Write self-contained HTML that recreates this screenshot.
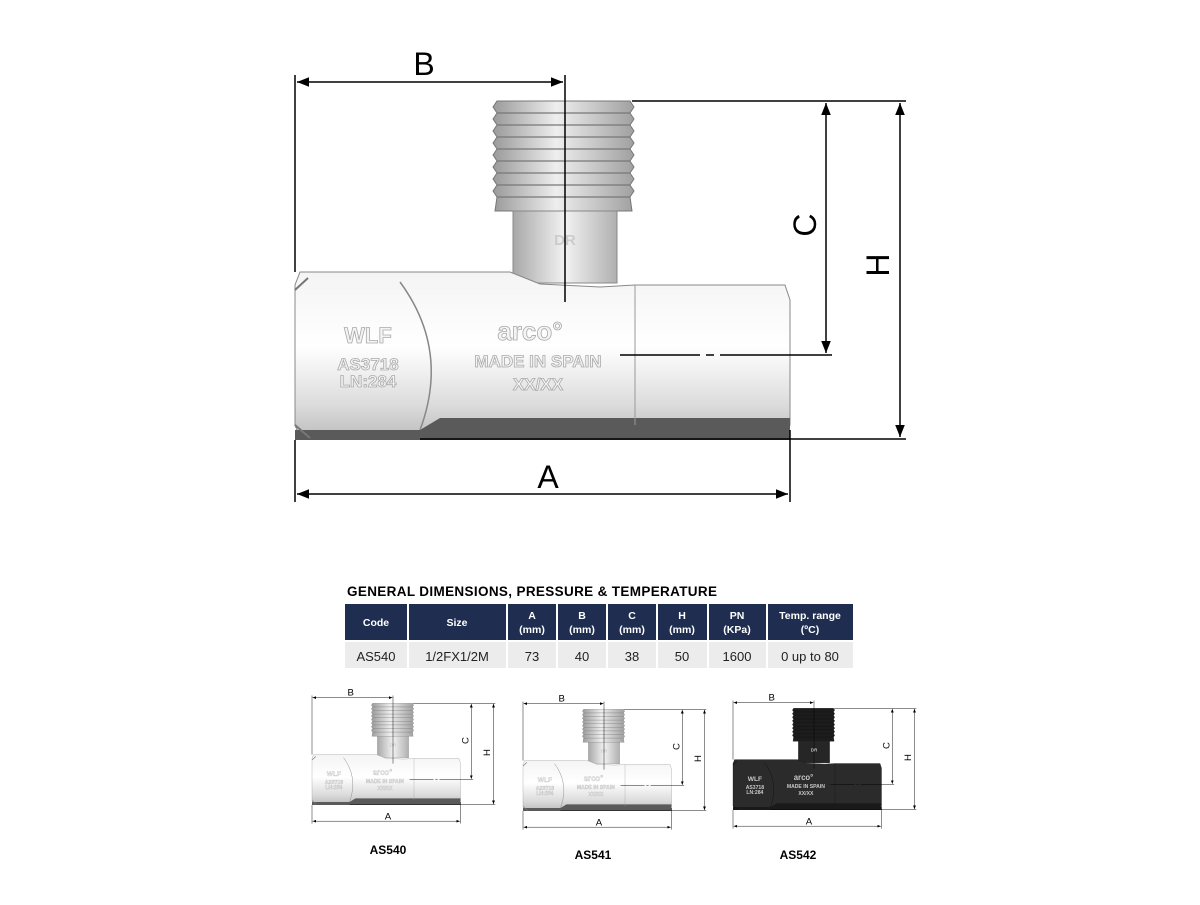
<!DOCTYPE html>
<html><head><meta charset="utf-8"><style>
body{margin:0;background:#fff;width:1200px;height:900px;overflow:hidden;font-family:"Liberation Sans",Arial,sans-serif}
.dark{--body:#2b2b2b;--thr:#1c1c1c;--neck:#262626;--ln:#111;--txt:#c8c8c8;--tst:none;--bot:#1a1a1a}
</style></head><body>
<svg width="1200" height="900" viewBox="0 0 1200 900" xmlns="http://www.w3.org/2000/svg" font-family="Liberation Sans, Arial, sans-serif">
<defs>
<linearGradient id="bodyg" x1="0" y1="0" x2="0" y2="1">
<stop offset="0" stop-color="#f4f4f4"/><stop offset="0.45" stop-color="#ffffff"/><stop offset="0.8" stop-color="#dcdcdc"/><stop offset="1" stop-color="#bdbdbd"/>
</linearGradient>
<linearGradient id="neckg" x1="0" y1="0" x2="1" y2="0">
<stop offset="0" stop-color="#a8a8a8"/><stop offset="0.5" stop-color="#f2f2f2"/><stop offset="1" stop-color="#b0b0b0"/>
</linearGradient>
<linearGradient id="thrg" x1="0" y1="0" x2="1" y2="0">
<stop offset="0" stop-color="#9a9a9a"/><stop offset="0.45" stop-color="#eeeeee"/><stop offset="1" stop-color="#a0a0a0"/>
</linearGradient>
<marker id="ar" viewBox="0 0 10 10" refX="10" refY="5" markerWidth="8" markerHeight="8" orient="auto-start-reverse"><path d="M0,1 L10,5 L0,9 z" fill="#000"/></marker>
<g id="valve">
 <path d="M497,101 L630,101 L634,107 L630,113 L634,119 L630,125 L634,131 L630,137 L634,143 L630,149 L634,155 L630,161 L634,167 L630,173 L634,179 L630,185 L634,191 L630,197 L632,211 L495,211 L497,197 L493,191 L497,185 L493,179 L497,173 L493,167 L497,161 L493,155 L497,149 L493,143 L497,137 L493,131 L497,125 L493,119 L497,113 L493,107 Z" style="fill:var(--thr,url(#thrg));stroke:var(--ln,#777)"/>
 <g style="stroke:var(--ln,#777)" stroke-width="1.2">
  <line x1="497" y1="113" x2="630" y2="113"/><line x1="497" y1="125" x2="630" y2="125"/>
  <line x1="497" y1="137" x2="630" y2="137"/><line x1="497" y1="149" x2="630" y2="149"/>
  <line x1="497" y1="161" x2="630" y2="161"/><line x1="497" y1="173" x2="630" y2="173"/>
  <line x1="497" y1="185" x2="630" y2="185"/><line x1="497" y1="197" x2="630" y2="197"/>
 </g>
 <rect x="513" y="211" width="104" height="72" style="fill:var(--neck,url(#neckg));stroke:var(--ln,#888)"/>
 <text x="565" y="245" font-size="15" font-weight="bold" style="fill:var(--txt,#ccc)" text-anchor="middle">DR</text>
 <path d="M300,272 L510,272 L540,284 L600,287 L635,285 L785,285 L790,300 L790,425 L785,438 L300,438 L295,425 L295,285 Z" style="fill:var(--body,url(#bodyg));stroke:var(--ln,#888)"/>
 <path d="M295,430 L420,430 L440,418 L790,418 L790,440 L295,440 Z" style="fill:var(--bot,#5a5a5a)"/>
 <path d="M400,282 Q450,350 420,430" fill="none" style="stroke:var(--ln,#888)" stroke-width="1.5"/>
 <path d="M295,290 L308,278 M295,425 L310,438" style="stroke:var(--ln,#777)" stroke-width="2"/>
 <line x1="635" y1="285" x2="635" y2="425" style="stroke:var(--ln,#999)"/>
 <g style="fill:var(--txt,#f4f4f4);stroke:var(--tst,#aaa)" stroke-width="0.8" font-weight="bold" text-anchor="middle">
  <text x="368" y="343" font-size="22">WLF</text>
  <text x="368" y="370" font-size="17">AS3718</text>
  <text x="368" y="387" font-size="17">LN:284</text>
  <text x="530" y="340" font-size="26">arco°</text>
  <text x="538" y="367" font-size="17">MADE IN SPAIN</text>
  <text x="538" y="390" font-size="17">XX/XX</text>
 </g>
 <g stroke="#000" stroke-width="1.5" fill="none">
  <line x1="295" y1="75" x2="295" y2="272"/>
  <line x1="565" y1="75" x2="565" y2="302"/>
  <line x1="297" y1="82" x2="563" y2="82" marker-start="url(#ar)" marker-end="url(#ar)"/>
  <line x1="632" y1="101" x2="906" y2="101"/>
  <line x1="620" y1="355" x2="700" y2="355"/><line x1="706" y1="355" x2="714" y2="355"/><line x1="720" y1="355" x2="832" y2="355"/>
  <line x1="420" y1="439" x2="906" y2="439"/>
  <line x1="826" y1="103" x2="826" y2="353" marker-start="url(#ar)" marker-end="url(#ar)"/>
  <line x1="900" y1="103" x2="900" y2="437" marker-start="url(#ar)" marker-end="url(#ar)"/>
  <line x1="295" y1="440" x2="295" y2="502"/>
  <line x1="790" y1="430" x2="790" y2="502"/>
  <line x1="297" y1="494" x2="788" y2="494" marker-start="url(#ar)" marker-end="url(#ar)"/>
 </g>
 <g font-size="32" fill="#000" text-anchor="middle">
  <text x="424" y="75">B</text>
  <text x="548" y="488">A</text>
  <text x="805" y="225" transform="rotate(-90 805 225)" dy="11">C</text>
  <text x="878" y="265" transform="rotate(-90 878 265)" dy="11">H</text>
 </g>
</g>
</defs>

<use href="#valve"/>

<text x="347" y="596" font-size="13.5" font-weight="bold" fill="#000" textLength="370">GENERAL DIMENSIONS, PRESSURE &amp; TEMPERATURE</text>
<g fill="#1f2e50">
 <rect x="345" y="604" width="62" height="36"/><rect x="409" y="604" width="97" height="36"/>
 <rect x="508" y="604" width="48" height="36"/><rect x="558" y="604" width="48" height="36"/>
 <rect x="608" y="604" width="48" height="36"/><rect x="658" y="604" width="49" height="36"/>
 <rect x="709" y="604" width="57" height="36"/><rect x="768" y="604" width="85" height="36"/>
</g>
<g fill="#ececec">
 <rect x="345" y="642" width="62" height="26"/><rect x="409" y="642" width="97" height="26"/>
 <rect x="508" y="642" width="48" height="26"/><rect x="558" y="642" width="48" height="26"/>
 <rect x="608" y="642" width="48" height="26"/><rect x="658" y="642" width="49" height="26"/>
 <rect x="709" y="642" width="57" height="26"/><rect x="768" y="642" width="85" height="26"/>
</g>
<g fill="#fff" font-size="10.5" font-weight="bold" text-anchor="middle">
 <text x="376" y="626">Code</text><text x="457" y="626">Size</text>
 <text x="532" y="619">A</text><text x="532" y="633">(mm)</text>
 <text x="582" y="619">B</text><text x="582" y="633">(mm)</text>
 <text x="632" y="619">C</text><text x="632" y="633">(mm)</text>
 <text x="682" y="619">H</text><text x="682" y="633">(mm)</text>
 <text x="737" y="619">PN</text><text x="737" y="633">(KPa)</text>
 <text x="810" y="619">Temp. range</text><text x="810" y="633">(ºC)</text>
</g>
<g fill="#222" font-size="13" text-anchor="middle">
 <text x="376" y="661">AS540</text><text x="457" y="661">1/2FX1/2M</text>
 <text x="532" y="661">73</text><text x="582" y="661">40</text><text x="632" y="661">38</text>
 <text x="682" y="661">50</text><text x="737" y="661">1600</text><text x="810" y="661">0 up to 80</text>
</g>

<use href="#valve" transform="translate(223.5,673) scale(0.3)"/>
<use href="#valve" transform="translate(434.5,679) scale(0.3)"/>
<use href="#valve" class="dark" transform="translate(644.5,678) scale(0.3)"/>
<g font-size="12" font-weight="bold" fill="#000" text-anchor="middle">
 <text x="388" y="854">AS540</text><text x="593" y="859">AS541</text><text x="798" y="859">AS542</text>
</g>
</svg>
</body></html>
